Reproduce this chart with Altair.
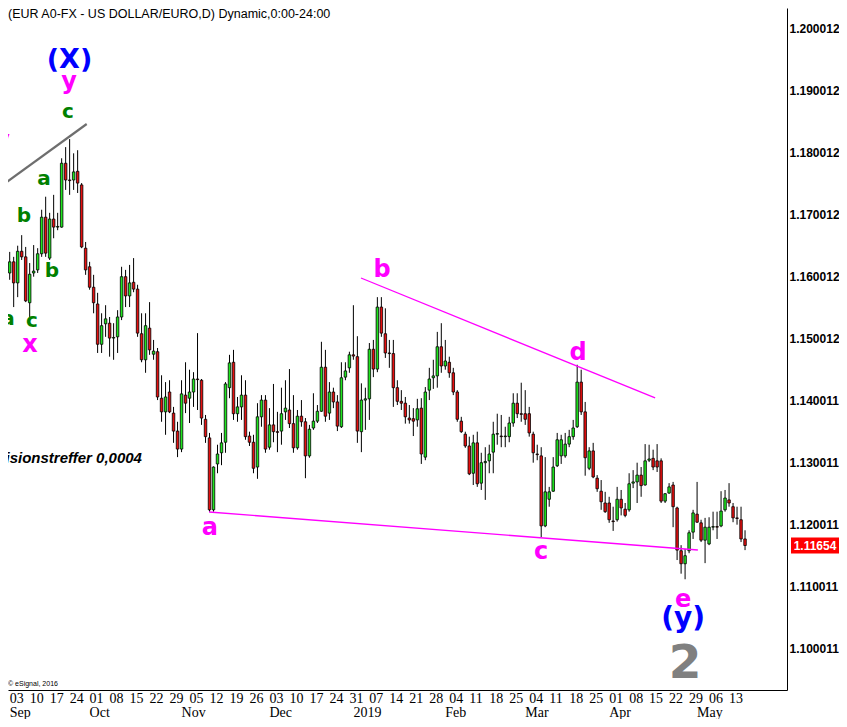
import altair as alt
import pandas as pd

# ---------------- data (EUR/USD daily) ----------------
first_session = "2018-08-30"

opens = [1.1718,1.1674,1.1605,1.1623,1.1589,1.1640,1.1631,1.1557,1.1605,1.1610,
         1.1636,1.1695,1.1629,1.1692,1.1679,1.1679,1.1782,1.1755,1.1755,1.1769,
         1.1747,1.1645,1.1615,1.1582,1.1555,1.1490,1.1523,1.1524,1.1500,1.1502,
         1.1534,1.1599,1.1568,1.1590,1.1579,1.1507,1.1465,1.1516,1.1474,1.1478,
         1.1403,1.1381,1.1413,1.1379,1.1350,1.1321,1.1408,1.1403,1.1413,1.1434,
         1.1432,1.1369,1.1339,1.1223,1.1297,1.1315,1.1332,1.1420,1.1461,1.1378,
         1.1389,1.1408,1.1342,1.1332,1.1292,1.1373,1.1400,1.1324,1.1360,1.1349,
         1.1350,1.1381,1.1384,1.1362,1.1323,1.1374,1.1365,1.1310,1.1355,1.1366,
         1.1382,1.1453,1.1379,1.1413,1.1397,1.1357,1.1437,1.1452,1.1473,1.1470,
         1.1349,1.1400,1.1402,1.1482,1.1450,1.1550,1.1507,1.1476,1.1475,1.1420,
         1.1398,1.1395,1.1371,1.1370,1.1368,1.1387,1.1308,1.1416,1.1436,1.1439,
         1.1486,1.1455,1.1461,1.1444,1.1413,1.1366,1.1345,1.1326,1.1282,1.1331,
         1.1266,1.1299,1.1302,1.1316,1.1345,1.1342,1.1341,1.1341,1.1363,1.1395,
         1.1378,1.1378,1.1378,1.1345,1.1313,1.1310,1.1197,1.1240,1.1253,1.1294,
         1.1310,1.1310,1.1329,1.1341,1.1357,1.1429,1.1381,1.1290,1.1318,1.1274,
         1.1253,1.1234,1.1234,1.1205,1.1207,1.1240,1.1224,1.1223,1.1266,1.1268,
         1.1279,1.1263,1.1303,1.1306,1.1302,1.1302,1.1237,1.1250,1.1263,1.1226,
         1.1157,1.1136,1.1157,1.1187,1.1216,1.1202,1.1174,1.1168,1.1195,1.1196,
         1.1197,1.1223,1.1239,1.1228,1.1210,1.1207,1.1176]
highs = [1.1726,1.1678,1.1639,1.1631,1.1649,1.1666,1.1647,1.1621,1.1650,1.1645,
         1.1707,1.1728,1.1702,1.1731,1.1702,1.1790,1.1808,1.1821,1.1798,1.1803,
         1.1750,1.1655,1.1623,1.1602,1.1573,1.1540,1.1553,1.1534,1.1524,1.1545,
         1.1615,1.1610,1.1618,1.1629,1.1586,1.1540,1.1540,1.1558,1.1497,1.1484,
         1.1440,1.1429,1.1432,1.1389,1.1365,1.1432,1.1461,1.1449,1.1445,1.1508,
         1.1434,1.1376,1.1347,1.1293,1.1328,1.1347,1.1429,1.1473,1.1481,1.1405,
         1.1440,1.1432,1.1349,1.1344,1.1395,1.1408,1.1408,1.1387,1.1426,1.1381,
         1.1420,1.1432,1.1450,1.1408,1.1384,1.1400,1.1371,1.1360,1.1411,1.1392,
         1.1494,1.1481,1.1429,1.1420,1.1408,1.1461,1.1461,1.1478,1.1553,1.1503,
         1.1427,1.1420,1.1492,1.1497,1.1566,1.1566,1.1548,1.1497,1.1497,1.1432,
         1.1416,1.1405,1.1392,1.1387,1.1402,1.1403,1.1421,1.1452,1.1465,1.1510,
         1.1524,1.1497,1.1470,1.1452,1.1416,1.1373,1.1349,1.1341,1.1344,1.1349,
         1.1315,1.1324,1.1328,1.1365,1.1378,1.1376,1.1357,1.1373,1.1411,1.1411,
         1.1428,1.1416,1.1389,1.1349,1.1328,1.1324,1.1308,1.1260,1.1308,1.1347,
         1.1344,1.1347,1.1352,1.1368,1.1457,1.1449,1.1397,1.1324,1.1331,1.1279,
         1.1271,1.1252,1.1244,1.1228,1.1260,1.1255,1.1234,1.1282,1.1287,1.1299,
         1.1292,1.1329,1.1328,1.1320,1.1329,1.1306,1.1250,1.1266,1.1268,1.1228,
         1.1166,1.1160,1.1190,1.1223,1.1268,1.1207,1.1210,1.1211,1.1220,1.1220,
         1.1253,1.1255,1.1266,1.1234,1.1228,1.1228,1.1190]
lows = [1.1666,1.1594,1.1594,1.1550,1.1566,1.1626,1.1558,1.1534,1.1599,1.1605,
        1.1631,1.1631,1.1626,1.1661,1.1674,1.1678,1.1739,1.1731,1.1739,1.1734,
        1.1645,1.1602,1.1578,1.1540,1.1476,1.1476,1.1502,1.1470,1.1465,1.1476,
        1.1529,1.1550,1.1550,1.1574,1.1502,1.1461,1.1444,1.1473,1.1465,1.1400,
        1.1365,1.1344,1.1379,1.1331,1.1308,1.1316,1.1379,1.1363,1.1389,1.1384,
        1.1360,1.1331,1.1220,1.1220,1.1282,1.1295,1.1315,1.1403,1.1368,1.1365,
        1.1368,1.1336,1.1326,1.1282,1.1273,1.1357,1.1315,1.1320,1.1332,1.1316,
        1.1328,1.1368,1.1355,1.1315,1.1320,1.1357,1.1274,1.1307,1.1352,1.1363,
        1.1381,1.1365,1.1368,1.1387,1.1350,1.1355,1.1432,1.1444,1.1465,1.1331,
        1.1316,1.1352,1.1368,1.1437,1.1445,1.1502,1.1468,1.1452,1.1389,1.1392,
        1.1384,1.1362,1.1362,1.1342,1.1357,1.1297,1.1303,1.1400,1.1418,1.1420,
        1.1444,1.1449,1.1436,1.1408,1.1365,1.1347,1.1323,1.1279,1.1263,1.1260,
        1.1255,1.1239,1.1282,1.1282,1.1328,1.1324,1.1324,1.1332,1.1357,1.1371,
        1.1365,1.1360,1.1341,1.1299,1.1303,1.1179,1.1195,1.1228,1.1252,1.1292,
        1.1297,1.1307,1.1324,1.1336,1.1355,1.1376,1.1278,1.1287,1.1274,1.1252,
        1.1223,1.1218,1.1202,1.1189,1.1204,1.1214,1.1211,1.1220,1.1258,1.1234,
        1.1244,1.1262,1.1300,1.1287,1.1284,1.1234,1.1234,1.1249,1.1195,1.1142,
        1.1120,1.1111,1.1153,1.1176,1.1202,1.1171,1.1137,1.1166,1.1190,1.1176,
        1.1195,1.1220,1.1228,1.1203,1.1199,1.1171,1.1158]
closes = [1.1674,1.1607,1.1623,1.1589,1.1640,1.1631,1.1560,1.1603,1.1608,1.1636,
          1.1695,1.1637,1.1692,1.1679,1.1680,1.1782,1.1755,1.1754,1.1768,1.1750,
          1.1647,1.1610,1.1582,1.1557,1.1490,1.1520,1.1531,1.1500,1.1501,1.1534,
          1.1599,1.1568,1.1589,1.1579,1.1508,1.1465,1.1520,1.1481,1.1479,1.1405,
          1.1381,1.1405,1.1381,1.1350,1.1321,1.1410,1.1395,1.1413,1.1434,1.1433,
          1.1371,1.1341,1.1223,1.1292,1.1313,1.1331,1.1426,1.1460,1.1378,1.1389,
          1.1408,1.1341,1.1332,1.1290,1.1373,1.1400,1.1321,1.1360,1.1349,1.1348,
          1.1378,1.1387,1.1362,1.1323,1.1374,1.1365,1.1310,1.1353,1.1366,1.1382,
          1.1453,1.1374,1.1413,1.1397,1.1358,1.1436,1.1447,1.1473,1.1471,1.1350,
          1.1400,1.1402,1.1482,1.1450,1.1550,1.1508,1.1476,1.1475,1.1420,1.1398,
          1.1395,1.1373,1.1368,1.1366,1.1386,1.1313,1.1413,1.1434,1.1439,1.1486,
          1.1455,1.1463,1.1444,1.1413,1.1369,1.1349,1.1326,1.1281,1.1331,1.1265,
          1.1299,1.1301,1.1313,1.1345,1.1346,1.1341,1.1342,1.1363,1.1395,1.1378,
          1.1377,1.1369,1.1347,1.1315,1.1312,1.1197,1.1252,1.1252,1.1292,1.1336,
          1.1336,1.1329,1.1341,1.1355,1.1429,1.1381,1.1307,1.1318,1.1276,1.1257,
          1.1236,1.1220,1.1207,1.1204,1.1240,1.1226,1.1214,1.1265,1.1268,1.1279,
          1.1262,1.1302,1.1305,1.1292,1.1292,1.1237,1.1249,1.1260,1.1228,1.1158,
          1.1136,1.1149,1.1186,1.1218,1.1203,1.1174,1.1195,1.1195,1.1196,1.1195,
          1.1221,1.1242,1.1234,1.1210,1.1209,1.1176,1.11654]

# Elliott-wave labels: (text, session index, price at baseline, colour, size)
wave_text  = ["(X)", "y", "c", "y", "a", "b", "b", "a", "c", "x",
              "b", "d", "a", "c", "e", "(y)", "2"]
wave_idx   = [16.97, 16.84, 16.59, 0.08, 10.6, 5.58, 12.59, 1.58, 7.58, 7.08,
              95.17, 144.2, 52.1, 134.96, 170.5, 170.5, 171.0]
wave_price = [1.19356, 1.19017, 1.18550, 1.18066, 1.17469, 1.16872, 1.15985,
              1.15211, 1.15179, 1.14775, 1.15985, 1.14646, 1.11824, 1.11440,
              1.10660, 1.10340, 1.09517]
wave_color = ["#0000ff", "#ff00ff", "#008000", "#ff00ff", "#008000", "#008000",
              "#008000", "#008000", "#008000", "#ff00ff", "#ff00ff", "#ff00ff",
              "#ff00ff", "#ff00ff", "#ff00ff", "#0000ff", "#808080"]
wave_size  = [27, 24, 20, 24, 20, 20, 20, 20, 20, 24, 24, 24, 24, 24, 24, 28, 47]

# trend lines: (line id, session index, price)
line_id    = ["grey", "grey", "upper", "upper", "lower", "lower"]
line_idx   = [-0.43, 21.27, 89.9, 163.5, 51.9, 174.2]
line_price = [1.17437, 1.18453, 1.15969, 1.14034, 1.12195, 1.11582]
line_color = {"grey": "#6e6e6e", "upper": "#ff00ff", "lower": "#ff00ff"}

y_ticks = [1.100011, 1.110011, 1.120011, 1.130011, 1.140011, 1.150012,
           1.160012, 1.170012, 1.180012, 1.190012, 1.200012]

title_text = "(EUR A0-FX - US DOLLAR/EURO,D) Dynamic,0:00-24:00"
note_text = "Präzisionstreffer 0,0004"
note_idx, note_price = 35.1, 1.12985
copyright_text = "© eSignal, 2016"

# ---------------- tables ----------------
n = len(closes)
sessions = pd.bdate_range(first_session, periods=n)
candles = pd.DataFrame({
    "idx": range(n), "open": opens, "high": highs, "low": lows, "close": closes,
})
candles["fill"] = ["#1ee61e" if c >= o else "#e60f0f" for o, c in zip(opens, closes)]

mondays = [i for i, d in enumerate(sessions) if d.dayofweek == 0]
day_df = pd.DataFrame({"idx": mondays,
                       "label": [f"{sessions[i].day:02d}" for i in mondays]})
month_starts = [i for i in range(1, n) if sessions[i].month != sessions[i - 1].month]
month_df = pd.DataFrame({
    "idx": month_starts,
    "label": [str(sessions[i].year) if sessions[i].month == 1 else sessions[i].strftime("%b")
              for i in month_starts]})

waves = pd.DataFrame({"text": wave_text, "idx": wave_idx, "price": wave_price,
                      "color": wave_color, "size": wave_size})
lines = pd.DataFrame({"line": line_id, "idx": line_idx, "price": line_price})
lines["color"] = lines["line"].map(line_color)
last = pd.DataFrame({"price": [closes[-1]], "label": [f"{closes[-1]:.5f}"]})

# ---------------- chart ----------------
W, H = 779, 682
xs = alt.Scale(domain=[1.577, 196.5], nice=False, zero=False, padding=0)
ys = alt.Scale(domain=[1.093238, 1.203238], nice=False, zero=False, padding=0)
xaxis = alt.Axis(labels=False, ticks=False, grid=False, title=None,
                 domainColor="black", domainWidth=1)
yaxis = alt.Axis(orient="right", values=y_ticks, format=".6f", ticks=False,
                 grid=False, title=None, domainColor="black", domainWidth=1,
                 labelFont="Liberation Sans", labelFontWeight="bold",
                 labelFontSize=12, labelColor="black", labelPadding=2)

X = alt.X("idx:Q", scale=xs, axis=xaxis)


def Y(field):
    return alt.Y(f"{field}:Q", scale=ys, axis=yaxis)


wicks = alt.Chart(candles).mark_rule(color="black", strokeWidth=1, clip=True).encode(
    x=X, y=Y("low"), y2="high")
bodies = alt.Chart(candles).mark_bar(width=2.5, stroke="black", strokeWidth=0.8, clip=True).encode(
    x=X, y=Y("open"), y2="close", fill=alt.Fill("fill:N", scale=None))

trend = alt.Chart(lines[lines.line != "grey"]).mark_line(clip=True, strokeWidth=1.3).encode(
    x=X, y=Y("price"), detail="line:N", color=alt.Color("color:N", scale=None))
grey = alt.Chart(lines[lines.line == "grey"]).mark_line(clip=True, strokeWidth=2.2).encode(
    x=X, y=Y("price"), color=alt.Color("color:N", scale=None))

wave_labels = alt.Chart(waves).mark_text(
    font="DejaVu Sans", fontWeight="bold", baseline="alphabetic", align="center").encode(
    x=X, y=Y("price"), text="text:N",
    color=alt.Color("color:N", scale=None), size=alt.Size("size:Q", scale=None))

note = alt.Chart(pd.DataFrame({"idx": [note_idx], "price": [note_price], "t": [note_text]})).mark_text(
    font="Liberation Sans", fontWeight="bold", fontStyle="italic", fontSize=15,
    align="right", baseline="alphabetic", color="black").encode(x=X, y=Y("price"), text="t:N")

title = alt.Chart(pd.DataFrame({"t": [title_text]})).mark_text(
    font="Liberation Sans", fontSize=12.5, align="left", baseline="top", color="black").encode(
    x=alt.value(0), y=alt.value(0), text="t:N")

copyright_ = alt.Chart(pd.DataFrame({"t": [copyright_text]})).mark_text(
    font="Liberation Sans", fontSize=7, align="left", baseline="bottom", color="black").encode(
    x=alt.value(0), y=alt.value(H - 3), text="t:N")

days = alt.Chart(day_df).mark_text(
    font="Liberation Sans Narrow", fontSize=14, align="left", baseline="alphabetic", color="black").encode(
    x=X, y=alt.value(H + 13), text="label:N")
months = alt.Chart(month_df).mark_text(
    font="Liberation Sans Narrow", fontSize=14, align="left", baseline="alphabetic", color="black").encode(
    x=X, y=alt.value(H + 27), text="label:N")

price_box = alt.Chart(last).mark_rule(color="#ff0000", strokeWidth=16).encode(
    x=alt.value(W + 4), x2=alt.value(W + 52), y=Y("price"))
price_txt = alt.Chart(last).mark_text(
    font="Liberation Sans", fontWeight="bold", fontSize=12, color="white",
    align="center", baseline="middle").encode(x=alt.value(W + 28), y=Y("price"), text="label:N")

chart = alt.layer(
    wicks, bodies, trend, grey, wave_labels, note, title, copyright_, days, months,
    price_box, price_txt
).properties(
    width=W, height=H,
    autosize=alt.AutoSizeParams(type="none"),
    padding={"left": 0, "top": 0, "right": 52, "bottom": 29},
    background="white",
).configure_view(stroke=None)

chart.save("out.html", embed_options={"renderer": "svg", "actions": False})
